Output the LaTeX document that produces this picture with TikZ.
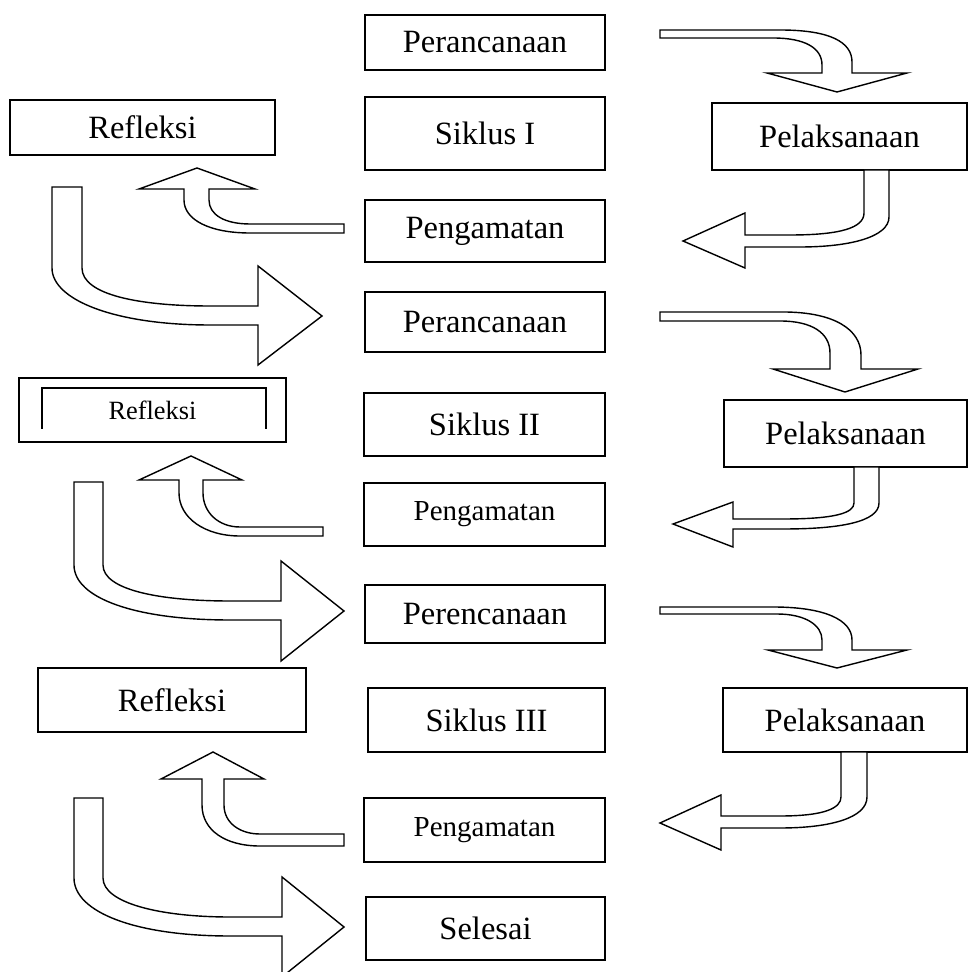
\documentclass[tikz,border=0pt]{standalone}
\usepackage{fontspec}
\setmainfont{Liberation Serif}
\usetikzlibrary{positioning}

\tikzset{
	kotak/.style={draw, line width=1.1pt, inner sep=0pt, align=center,
		font=\fontsize{18.5}{22}\selectfont},
	kecil/.style={font=\fontsize{15}{18}\selectfont},
	sedang/.style={font=\fontsize{16.5}{20}\selectfont},
	panah/.style={draw, fill=white, line width=0.8pt, line join=miter}
}

\begin{document}
\begin{tikzpicture}[x=0.02cm, y=-0.02cm]
	\useasboundingbox (0,0) rectangle (977,972);
	% siklus I
	\node[kotak, minimum width=4.8cm, minimum height=1.1cm] (per1) at (485,42.5) {Perancanaan};
	\node[kotak, minimum width=5.3cm, minimum height=1.1cm] (ref1) at (142.5,127.5) {Refleksi};
	\node[kotak, minimum width=4.8cm, minimum height=1.46cm] (sik1) at (485,133.5) {Siklus I};
	\node[kotak, minimum width=5.1cm, minimum height=1.34cm] (pel1) at (839.5,136.5) {Pelaksanaan};
	\node[kotak, minimum width=4.8cm, minimum height=1.24cm] (pen1) at (485,231) {Pengamatan};
	% siklus II
	\node[kotak, minimum width=4.8cm, minimum height=1.2cm] (per2) at (485,322) {Perancanaan};
	\node[kotak, kecil, minimum width=5.34cm, minimum height=1.28cm] (ref2) at (152.5,410) {Refleksi};
	\draw[line width=0.8pt] (42,429) -- (42,388) -- (266,388) -- (266,429);
	\node[kotak, minimum width=4.82cm, minimum height=1.26cm] (sik2) at (484.5,424.5) {Siklus II};
	\node[kotak, minimum width=4.86cm, minimum height=1.34cm] (pel2) at (845.5,433.5) {Pelaksanaan};
	\node[kotak, sedang, minimum width=4.82cm, minimum height=1.26cm] (pen2) at (484.5,514.5) {Pengamatan};
	% siklus III
	\node[kotak, minimum width=4.8cm, minimum height=1.16cm] (per3) at (485,614) {Perencanaan};
	\node[kotak, minimum width=5.36cm, minimum height=1.28cm] (ref3) at (172,700) {Refleksi};
	\node[kotak, minimum width=4.74cm, minimum height=1.28cm] (sik3) at (486.5,720) {Siklus III};
	\node[kotak, minimum width=4.88cm, minimum height=1.28cm] (pel3) at (845,720) {Pelaksanaan};
	\node[kotak, sedang, minimum width=4.82cm, minimum height=1.28cm] (pen3) at (484.5,830) {Pengamatan};
	\node[kotak, minimum width=4.78cm, minimum height=1.26cm] (sel) at (485.5,928.5) {Selesai};

	% panah kanan atas
	\draw[panah] (660,30) -- (780,30) .. controls (830,30) and (852,42) .. (852,62) -- (852,73) -- (907,73) -- (837,92) -- (767,73) -- (822,73) -- (822,65) .. controls (822,48) and (805,38) .. (773,38) -- (660,38) -- cycle;
	\draw[panah] (660,312) -- (783,312) .. controls (835,312) and (861,330) .. (861,355) -- (861,369) -- (918,369) -- (845,392) -- (773,369) -- (830,369) -- (830,353) .. controls (830,333) and (812,321) .. (780,321) -- (660,321) -- cycle;
	\draw[panah] (660,607) -- (773,607) .. controls (825,607) and (852,620) .. (852,640) -- (852,650) -- (907,650) -- (837,668) -- (768,650) -- (822,650) -- (822,640) .. controls (822,625) and (805,614) .. (777,614) -- (660,614) -- cycle;

	% panah kanan bawah
	\draw[panah] (864,170) -- (889,170) -- (889,217) .. controls (889,237) and (850,247) .. (800,247) -- (745,247) -- (745,268) -- (683,241) -- (745,213) -- (745,235) -- (790,235) .. controls (840,235) and (864,228) .. (864,213) -- cycle;
	\draw[panah] (854,467) -- (879,467) -- (879,503) .. controls (879,522) and (840,529) .. (783,529) -- (733,529) -- (733,547) -- (673,524) -- (733,502) -- (733,519) -- (783,519) .. controls (835,519) and (854,513) .. (854,503) -- cycle;
	\draw[panah] (841,752) -- (867,752) -- (867,797) .. controls (867,818) and (830,828) .. (780,828) -- (721,828) -- (721,850) -- (660,823) -- (721,795) -- (721,816) -- (780,816) .. controls (825,816) and (841,808) .. (841,797) -- cycle;

	% panah kiri ke atas
	\draw[panah] (197,168) -- (255,189) -- (209,189) -- (209,200) .. controls (209,215) and (225,224) .. (250,224) -- (344,224) -- (344,233) -- (250,233) .. controls (210,233) and (184,220) .. (184,200) -- (184,189) -- (139,189) -- cycle;
	\draw[panah] (191,456) -- (242,480) -- (203,480) -- (203,493) .. controls (203,512) and (218,527) .. (240,527) -- (323,527) -- (323,536) -- (240,536) .. controls (205,536) and (179,518) .. (179,493) -- (179,480) -- (139,480) -- cycle;
	\draw[panah] (213,752) -- (264,779) -- (224,779) -- (224,805) .. controls (224,823) and (240,834) .. (260,834) -- (344,834) -- (344,846) -- (260,846) .. controls (225,846) and (202,830) .. (202,805) -- (202,779) -- (161,779) -- cycle;

	% panah kiri ke kanan
	\draw[panah] (52,187) -- (82,187) -- (82,268) .. controls (82,295) and (140,306) .. (210,306) -- (258,306) -- (258,266) -- (322,316) -- (258,365) -- (258,325) -- (210,325) .. controls (115,325) and (52,300) .. (52,268) -- cycle;
	\draw[panah] (74,482) -- (103,482) -- (103,565) .. controls (103,590) and (160,601) .. (230,601) -- (281,601) -- (281,561) -- (344,611) -- (281,661) -- (281,620) -- (230,620) .. controls (135,620) and (74,598) .. (74,565) -- cycle;
	\draw[panah] (74,798) -- (103,798) -- (103,878) .. controls (103,903) and (160,917) .. (230,917) -- (282,917) -- (282,877) -- (344,927) -- (282,977) -- (282,936) -- (230,936) .. controls (135,936) and (74,912) .. (74,878) -- cycle;
\end{tikzpicture}
\end{document}
